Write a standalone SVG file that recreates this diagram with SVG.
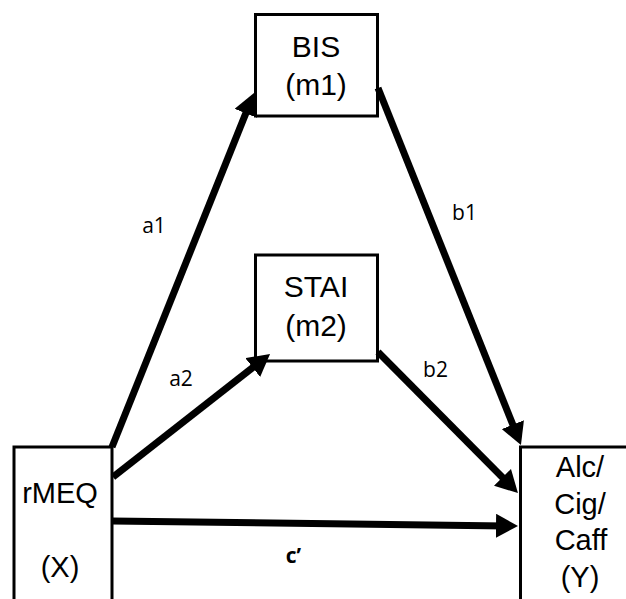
<svg xmlns="http://www.w3.org/2000/svg" width="626" height="599" viewBox="0 0 626 599">
<style>
.box{fill:#fff;stroke:#000;stroke-width:3}
.nt{font-family:"Liberation Sans",Arial,sans-serif;font-size:30px;fill:#000;text-anchor:middle}
.lbl{font-family:"Open Sans","Liberation Sans",sans-serif;font-size:21px;fill:#000;text-anchor:middle}
.edge{stroke:#000;stroke-width:7;fill:none;marker-end:url(#ah)}
</style>
<defs>
<marker id="ah" markerUnits="userSpaceOnUse" viewBox="0 0 22 24" refX="10" refY="12" markerWidth="22" markerHeight="24" orient="auto">
<path d="M0,0 L22,12 L0,24 z" fill="#000"/>
</marker>
</defs>
<rect width="626" height="599" fill="#fff"/>
<g id="node-bis">
<rect class="box" x="255.5" y="14.5" width="122" height="101.5"/>
<text class="nt" x="316" y="57">BIS</text>
<text class="nt" x="316" y="95">(m1)</text>
</g>
<g id="node-stai">
<rect class="box" x="255.5" y="255" width="122" height="106"/>
<text class="nt" x="316" y="297">STAI</text>
<text class="nt" x="316" y="336">(m2)</text>
</g>
<g id="node-rmeq">
<rect class="box" x="14" y="447" width="98" height="170"/>
<text class="nt" x="60" y="503" style="font-size:29px">rMEQ</text>
<text class="nt" x="60" y="577" style="font-size:29px">(X)</text>
</g>
<g id="node-y">
<rect class="box" x="520.5" y="447" width="120" height="170"/>
<text class="nt" x="580" y="477" style="font-size:29px">Alc/</text>
<text class="nt" x="580" y="514" style="font-size:29px">Cig/</text>
<text class="nt" x="581" y="550" style="font-size:29px">Caff</text>
<text class="nt" x="580" y="587" style="font-size:29px">(Y)</text>
</g>
<g id="connectors">
<line class="edge" x1="112" y1="447" x2="249.5" y2="104.1"/>
<line class="edge" x1="113" y1="477" x2="260.6" y2="361.4"/>
<line class="edge" x1="378" y1="88" x2="516.5" y2="433.9"/>
<line class="edge" x1="378" y1="352" x2="509.5" y2="484.5"/>
<line class="edge" x1="112" y1="521" x2="506" y2="525.9"/>
<text class="lbl" x="154" y="233">a1</text>
<text class="lbl" x="181" y="386">a2</text>
<text class="lbl" x="464.5" y="220">b1</text>
<text class="lbl" x="435.5" y="377">b2</text>
<text class="lbl" x="293.5" y="563" style="font-weight:bold">c’</text>
</g>
</svg>
